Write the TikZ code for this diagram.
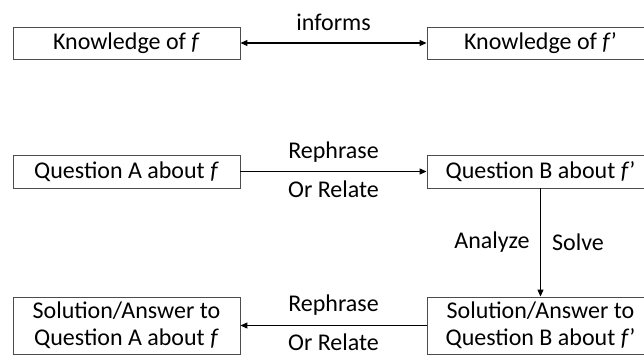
\documentclass[tikz,border=0pt]{standalone}
\usepackage{fontspec}
\setmainfont{Carlito}
\usetikzlibrary{arrows.meta}

\tikzset{
  box/.style={draw=black!70, line width=0.9pt, minimum width=227pt, inner sep=0pt, align=center, font=\fontsize{24}{27}\selectfont},
  link/.style={line width=1.1pt, -{Triangle[length=7pt,width=6pt]}},
  lab/.style={font=\fontsize{24}{27}\selectfont}
}

\begin{document}
\begin{tikzpicture}[x=1pt,y=-1pt]

\useasboundingbox
(0,0)
rectangle
(644,354);

\node[box, minimum height=32pt] (kf) at (126.5,43) {Knowledge of \textit{f}};
\node[box, minimum height=32pt] (kg) at (540.5,43) {Knowledge of \textit{f}’};

\node[box, minimum height=33pt] (qa) at (126.5,171.5) {Question A about \textit{f}};
\node[box, minimum height=33pt] (qb) at (540.5,171.5) {Question B about \textit{f}’};

\node[box, minimum height=57pt] (sa) at (126.5,325.5) {Solution/Answer to\\Question A about \textit{f}};
\node[box, minimum height=57pt] (sb) at (540.5,325.5) {Solution/Answer to\\Question B about \textit{f}’};

% liens
\draw[link, {Triangle[length=7pt,width=6pt]}-{Triangle[length=7pt,width=6pt]}]
(kf)
--
node[lab, midway, yshift=21pt] {informs}
(kg);

\draw[link]
(qa)
--
node[lab, midway, yshift=19pt] {Rephrase}
node[lab, midway, yshift=-18pt] {Or Relate}
(qb);

\draw[link]
(qb)
--
node[lab, midway, xshift=-48.5pt] {Analyze}
node[lab, midway, xshift=37.5pt] {Solve}
(sb);

\draw[link]
(sb)
--
node[lab, midway, yshift=20pt] {Rephrase}
node[lab, midway, yshift=-17pt] {Or Relate}
(sa);

\end{tikzpicture}
\end{document}
